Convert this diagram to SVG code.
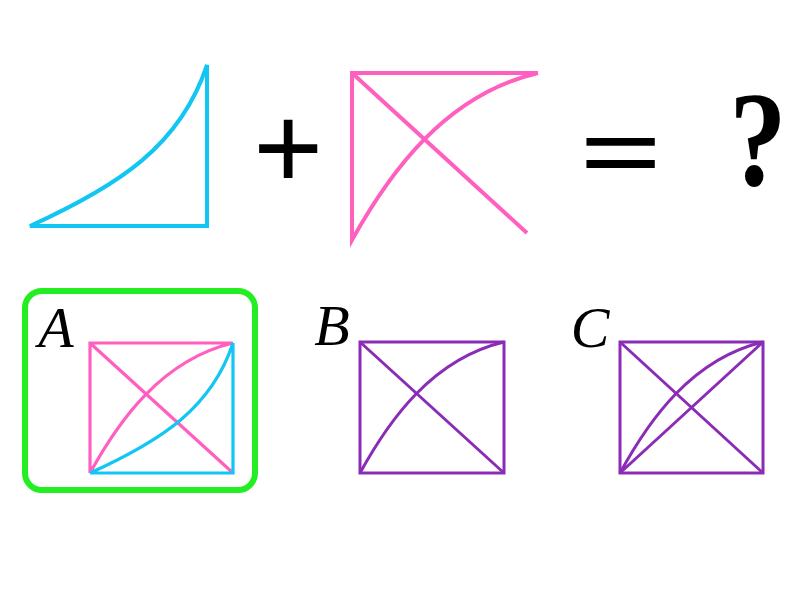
<svg xmlns="http://www.w3.org/2000/svg" width="800" height="600" viewBox="0 0 800 600">
<style>
.cy{fill:none;stroke:#12c6f3;stroke-width:4;stroke-linejoin:miter;stroke-linecap:butt}
.pk{fill:none;stroke:#ff60c0;stroke-width:4;stroke-linejoin:miter;stroke-linecap:butt}
.pkt{fill:none;stroke:#ff60c0;stroke-width:3.2;stroke-linecap:butt}
.cyt{fill:none;stroke:#12c6f3;stroke-width:3.2;stroke-linecap:butt}
.pu{fill:none;stroke:#8a2cb6;stroke-width:3;stroke-linecap:butt}
.sel{fill:none;stroke:#22ee22;stroke-width:6}
.sym{font-family:"Liberation Serif","DejaVu Serif",serif;font-weight:bold;fill:#000;text-anchor:middle}
.lbl{font-family:"Liberation Serif","DejaVu Serif",serif;font-style:italic;fill:#000;text-anchor:middle;font-size:58px}
</style>
<rect width="800" height="600" fill="#fff"/>
<g id="cyan-shape">
<path class="cy" d="M30,226 C118.5,185.8 180.5,145.5 207,65 L207,226 Z"/>
</g>
<g id="plus">
<text class="sym" x="287" y="190" font-size="125" font-style="italic">+</text>
</g>
<g id="pink-shape">
<path class="pk" d="M538,73 L352,73 L352,240 C389.2,173.2 445,94.7 538,73"/>
<path class="pk" d="M352,73 L527,233"/>
</g>
<g id="equals">
<text class="sym" x="620" y="199" font-size="140" font-style="italic" transform="translate(620 152) scale(1.05 0.8) translate(-620 -152)">=</text>
</g>
<g id="question">
<text class="sym" x="758" y="185" font-size="135" transform="translate(758 0) scale(0.85 1) translate(-758 0)">?</text>
</g>
<g id="option-a">
<rect class="sel" x="25" y="291" width="230" height="199" rx="17"/>
<text class="lbl" x="56" y="347">A</text>
<path class="pkt" d="M233,343 L90,343 L90,473 M90,343 L233,473 M90,473 C118.6,421 161.5,359.9 233,343"/>
<path class="cyt" d="M233,343 L233,473 L90,473 M90,473 C161.5,440.5 211.6,408 233,343"/>
</g>
<g id="option-b">
<text class="lbl" x="332" y="345">B</text>
<rect class="pu" x="360" y="342" width="144" height="131"/>
<path class="pu" d="M360,342 L504,473 M360,473 C388.8,420.6 432,359 504,342"/>
</g>
<g id="option-c">
<text class="lbl" x="590" y="347">C</text>
<rect class="pu" x="620" y="342" width="143" height="131"/>
<path class="pu" d="M620,342 L763,473 M620,473 L763,342 M620,473 C648.6,420.6 691.5,359 763,342"/>
</g>
</svg>
